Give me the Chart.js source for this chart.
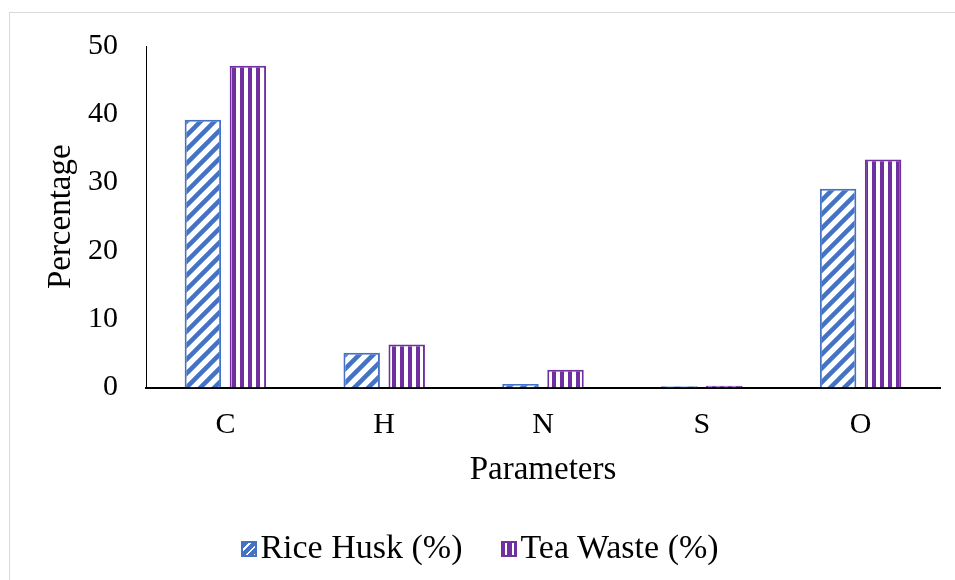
<!DOCTYPE html>
<html>
<head>
<meta charset="utf-8">
<script src="https://cdn.jsdelivr.net/npm/chart.js@4.4.1/dist/chart.umd.min.js"></script>
<style>
  html, body { margin: 0; padding: 0; background: #fff; overflow: hidden; }
  #wrap { position: relative; width: 955px; height: 580px; overflow: hidden; }
  #frame { position: absolute; left: 9px; top: 12px; width: 1200px; height: 1200px; border: 1px solid #d9d9d9; box-sizing: border-box; }
  canvas { position: absolute; left: 0; top: 0; }
  #legend { position: absolute; left: 0; width: 960px; top: 527px; height: 40px; display: flex; justify-content: center; align-items: center; gap: 39px;
            font-family: 'Liberation Serif', 'Times New Roman', serif; font-size: 34px; line-height: 40px; color: #000; white-space: nowrap; }
  .item { display: flex; align-items: center; }
  .sw { width: 16px; height: 16px; box-sizing: border-box; border: 2px solid; margin-right: 3px; margin-top: 3px; }
</style>
</head>
<body>
<div id="wrap">
  <div id="frame"></div>
  <canvas id="chart" width="955" height="580"></canvas>
  <div id="legend"></div>
</div>
<script>
const categories = ['C', 'H', 'N', 'S', 'O'];
const riceHusk = [39.2, 5.1, 0.5, 0.2, 29.1];
const teaWaste = [47.1, 6.3, 2.6, 0.25, 33.4];
const seriesNames = ['Rice Husk (%)', 'Tea Waste (%)'];
const yTicks = [0, 10, 20, 30, 40, 50];
const xTitle = 'Parameters';
const yTitle = 'Percentage';

const BLUE = '#4472C4';
const PURPLE = '#7030A0';
const FONT = 'Liberation Serif, Times New Roman, serif';
const swatchCss = [
  'repeating-linear-gradient(135deg, ' + BLUE + ' 0 4px, #fff 4px 6px)',
  'repeating-linear-gradient(90deg, ' + PURPLE + ' 0 2px, #fff 2px 4px, ' + PURPLE + ' 4px 7px)'
];

function diagPattern(color) {
  const s = 14;
  const c = document.createElement('canvas');
  c.width = s; c.height = s;
  const g = c.getContext('2d');
  g.fillStyle = '#fff';
  g.fillRect(0, 0, s, s);
  g.strokeStyle = color;
  g.lineWidth = 4.5;
  g.beginPath();
  g.moveTo(-2, s + 2); g.lineTo(s + 2, -2);
  g.moveTo(-2, 2); g.lineTo(2, -2);
  g.moveTo(s - 2, s + 2); g.lineTo(s + 2, s - 2);
  g.stroke();
  return g.createPattern(c, 'repeat');
}
function vertPattern(color) {
  const w = 8;
  const c = document.createElement('canvas');
  c.width = w; c.height = 8;
  const g = c.getContext('2d');
  g.fillStyle = '#fff';
  g.fillRect(0, 0, w, 8);
  g.fillStyle = color;
  g.fillRect(0, 0, 4, 8);
  return g.createPattern(c, 'repeat');
}

const htmlLegend = {
  id: 'htmlLegend',
  afterUpdate(chart) {
    const box = document.getElementById('legend');
    box.innerHTML = '';
    chart.data.datasets.forEach((ds, i) => {
      const item = document.createElement('span');
      item.className = 'item';
      const sw = document.createElement('span');
      sw.className = 'sw';
      sw.style.borderColor = ds.borderColor;
      sw.style.background = swatchCss[i];
      const t = document.createElement('span');
      t.textContent = ds.label;
      item.appendChild(sw);
      item.appendChild(t);
      box.appendChild(item);
    });
  }
};

Chart.defaults.color = '#000';
Chart.defaults.font.family = FONT;
Chart.defaults.font.size = 30;

new Chart(document.getElementById('chart'), {
  type: 'bar',
  data: {
    labels: categories,
    datasets: [
      {
        label: seriesNames[0],
        data: riceHusk,
        backgroundColor: diagPattern(BLUE),
        borderColor: BLUE,
        borderWidth: 2,
        categoryPercentage: 0.567,
        barPercentage: 0.81
      },
      {
        label: seriesNames[1],
        data: teaWaste,
        backgroundColor: vertPattern(PURPLE),
        borderColor: PURPLE,
        borderWidth: 2,
        categoryPercentage: 0.567,
        barPercentage: 0.81
      }
    ]
  },
  plugins: [htmlLegend],
  options: {
    responsive: false,
    animation: false,
    layout: { padding: { top: 41, right: 15, bottom: 0, left: 0 } },
    plugins: {
      tooltip: { enabled: false },
      legend: { display: false }
    },
    scales: {
      x: {
        grid: { display: false, drawTicks: false },
        border: { display: true, color: '#000', width: 2 },
        ticks: { padding: 19.5, font: { family: FONT, size: 30 }, color: '#000' },
        title: { display: true, text: xTitle, padding: { top: 0, bottom: 90 }, font: { family: FONT, size: 33 }, color: '#000' },
        afterFit: (s) => { s.height = 192.5; }
      },
      y: {
        min: 0,
        max: 50,
        afterBuildTicks: (s) => { s.ticks = yTicks.map(v => ({ value: v })); },
        grid: { display: false, drawTicks: false },
        border: { display: true, color: '#000', width: 1 },
        ticks: { padding: 28, font: { family: FONT, size: 30 }, color: '#000' },
        title: { display: true, text: yTitle, padding: { top: 42, bottom: 0 }, font: { family: FONT, size: 33 }, color: '#000' },
        afterFit: (s) => { s.width = 146; }
      }
    }
  }
});
</script>
</body>
</html>
